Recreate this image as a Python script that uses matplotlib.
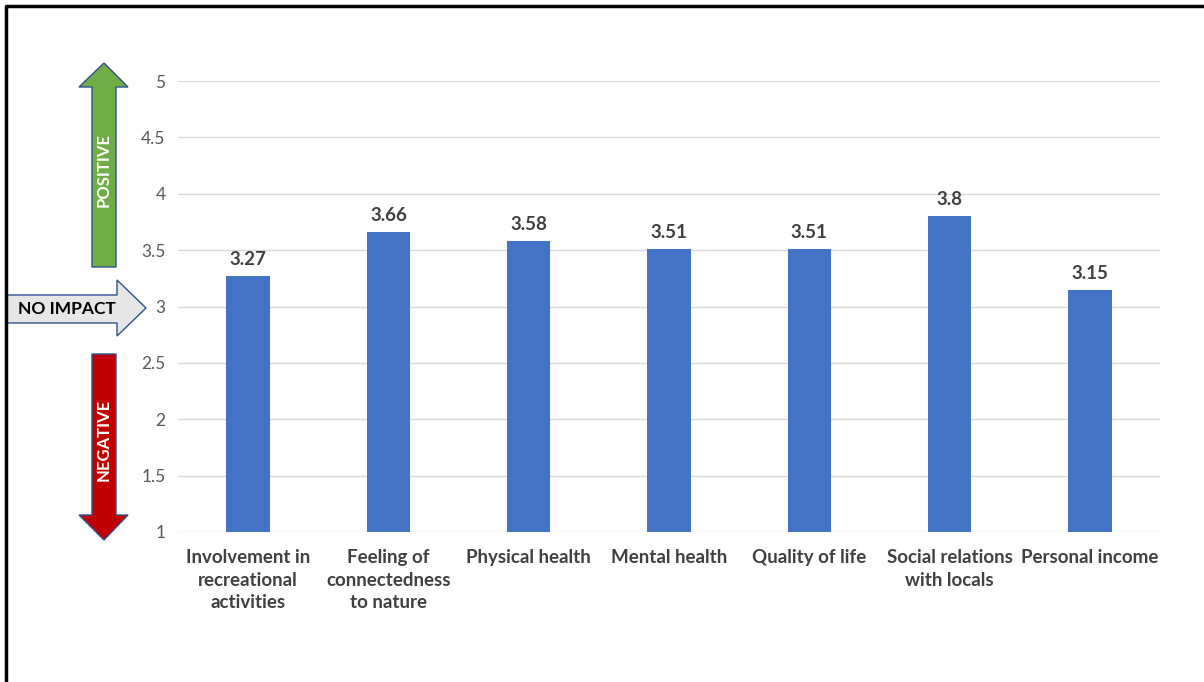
import matplotlib.pyplot as plt
import numpy as np
from matplotlib.patches import Polygon

categories = ["Involvement in\nrecreational\nactivities", "Feeling of\nconnectedness\nto nature",
              "Physical health", "Mental health", "Quality of life",
              "Social relations\nwith locals", "Personal income"]
values = [3.27, 3.66, 3.58, 3.51, 3.51, 3.8, 3.15]
value_labels = ["3.27", "3.66", "3.58", "3.51", "3.51", "3.8", "3.15"]
yticks = [1, 1.5, 2, 2.5, 3, 3.5, 4, 4.5, 5]
ytick_labels = ["1", "1.5", "2", "2.5", "3", "3.5", "4", "4.5", "5"]

plt.rcParams['font.family'] = ['Lato', 'DejaVu Sans']

W, H = 1204, 682
fig = plt.figure(figsize=(W / 100, H / 100), dpi=100)
ax = fig.add_axes([178 / W, 1 - 532 / H, (1160 - 178) / W, (532 - 81) / H])

x = np.arange(len(categories))
ax.bar(x, values, width=0.31, color="#4472c4", zorder=3)
for xi, v, lab in zip(x, values, value_labels):
    ax.text(xi, v + 0.07, lab, ha="center", va="bottom", fontsize=13.5,
            fontweight="bold", color="#404040")

ax.set_ylim(1, 5)
ax.set_xlim(-0.5, len(categories) - 0.5)
ax.set_yticks(yticks)
ax.set_yticklabels(ytick_labels, fontsize=12.5, color="#595959")
ax.set_xticks(x)
ax.set_xticklabels(categories, fontsize=13.5, fontweight="bold", color="#404040",
                   linespacing=1.42)
ax.tick_params(length=0, axis="y", pad=9)
ax.tick_params(length=0, axis="x", pad=12)
ax.grid(axis="y", color="#d9d9d9", linewidth=1, zorder=0)
for s in ax.spines.values():
    s.set_visible(False)

# overlay in pixel coordinates for the arrows and the frame
ov = fig.add_axes([0, 0, 1, 1], zorder=5)
ov.set_xlim(0, W)
ov.set_ylim(H, 0)
ov.axis("off")

edge = "#2f528f"
green = Polygon([(92, 267), (92, 87), (79, 87), (104, 63), (128, 87), (116, 87), (116, 267)],
                closed=True, facecolor="#70ad47", edgecolor=edge, linewidth=1)
red = Polygon([(92, 354), (92, 515), (79, 515), (104, 540), (128, 515), (116, 515), (116, 354)],
              closed=True, facecolor="#c00000", edgecolor=edge, linewidth=1)
grey = Polygon([(6, 295), (117, 295), (117, 280), (146, 308), (117, 336), (117, 323), (6, 323)],
               closed=True, facecolor="#e7e6e6", edgecolor=edge, linewidth=1)
for p in (green, red, grey):
    ov.add_patch(p)

ov.text(104, 170, "POSITIVE", rotation=90, ha="center", va="center", color="white",
        fontsize=12, fontweight="bold")
ov.text(104, 440, "NEGATIVE", rotation=90, ha="center", va="center", color="white",
        fontsize=12, fontweight="bold")
ov.text(67, 309, "NO IMPACT", ha="center", va="center", color="black",
        fontsize=12.5, fontweight="bold")

ov.plot([5.5, 5.5, W], [H, 5.5, 5.5], color="black", linewidth=2.5, solid_capstyle="butt")

fig.savefig("out.png", dpi=100)
